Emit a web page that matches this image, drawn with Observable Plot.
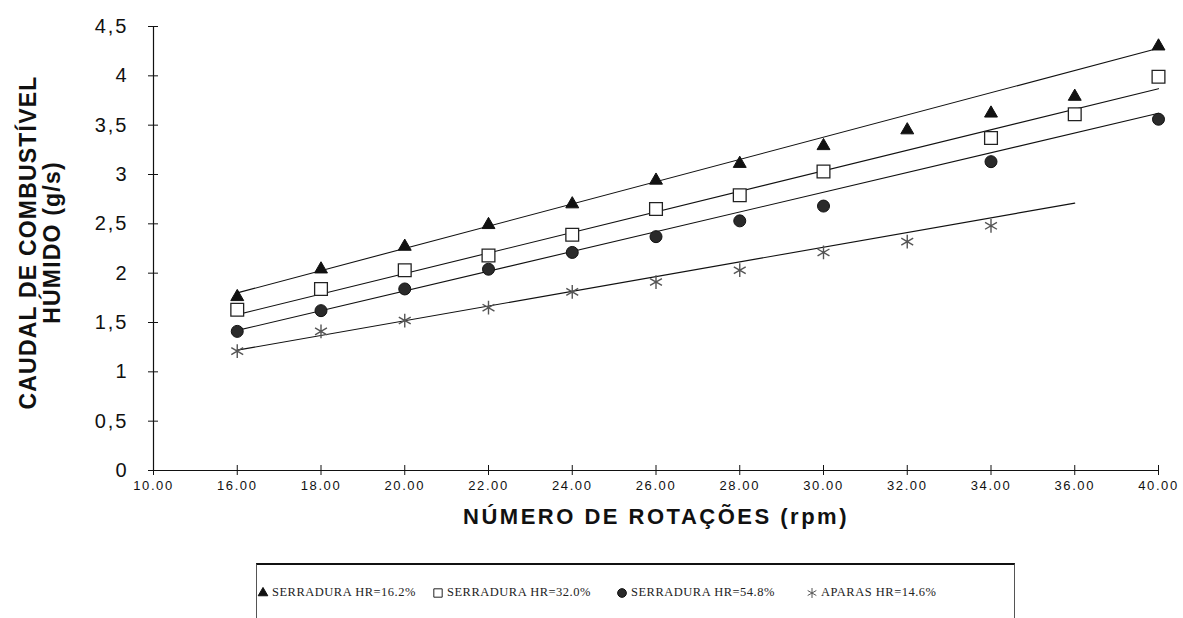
<!DOCTYPE html>
<html><head><meta charset="utf-8">
<script src="https://cdn.jsdelivr.net/npm/d3@7"></script>
<script src="https://cdn.jsdelivr.net/npm/@observablehq/plot@0.6"></script>
<style>
body{margin:0;background:#fff;width:1183px;height:618px;overflow:hidden;position:relative;font-family:"Liberation Sans",Arial,sans-serif;}
#chart svg{display:block;}
g[aria-label="y-axis tick label"] text{letter-spacing:2px;}
g[aria-label="x-axis tick label"] text{letter-spacing:1.6px;}
.xtitle text{letter-spacing:2.5px;}
.ytitle text{letter-spacing:1.2px;}
#legend{position:absolute;left:256px;top:563px;width:759px;height:70px;border:1px solid #555;border-top:2px solid #111;box-sizing:border-box;}
.item{position:absolute;top:20px;display:flex;align-items:center;font-family:"Liberation Serif","Times New Roman",serif;font-size:12.5px;color:#222;letter-spacing:0.5px;white-space:nowrap;}
.item svg{margin-right:3px;}
</style></head><body>
<div id="chart"></div>
<div id="legend"></div>
<script>
// Categories (x axis is a category axis, evenly spaced)
const rpmLabels = ["10.00","16.00","18.00","20.00","22.00","24.00","26.00","28.00","30.00","32.00","34.00","36.00","40.00"];
// Series values per category (null = no point)
const serradura162 = [null,1.76,2.04,2.27,2.49,2.70,2.94,3.11,3.29,3.45,3.62,3.79,4.30];
const serradura320 = [null,1.63,1.84,2.03,2.18,2.39,2.65,2.79,3.03,null,3.37,3.61,3.99];
const serradura548 = [null,1.41,1.62,1.84,2.04,2.21,2.37,2.53,2.68,null,3.13,null,3.56];
const aparas146    = [null,1.21,1.41,1.52,1.65,1.81,1.91,2.03,2.21,2.32,2.48,null,null];
// Trend lines: start/end category index and values
const trendFrom  = [1, 1, 1, 1];
const trendTo    = [12, 12, 12, 11];
const trendStart = [1.80, 1.58, 1.42, 1.22];
const trendEnd   = [4.28, 3.87, 3.62, 2.71];
const seriesNames = ["SERRADURA HR=16.2%","SERRADURA HR=32.0%","SERRADURA HR=54.8%","APARAS HR=14.6%"];
const yTicks = [0,0.5,1,1.5,2,2.5,3,3.5,4,4.5];
const xTitle = "NÚMERO DE ROTAÇÕES (rpm)";
const yTitle = "CAUDAL DE COMBUSTÍVEL\nHÚMIDO (g/s)";

const seriesValues = [serradura162, serradura320, serradura548, aparas146];
const points = seriesValues.flatMap((vals, s) => vals.map((v, i) => ({s, i, v})).filter(d => d.v != null));
const trends = seriesValues.flatMap((_, s) => [
  {s, i: trendFrom[s], v: trendStart[s]},
  {s, i: trendTo[s], v: trendEnd[s]}
]);
const styles = [
  {symbol: "triangle", r: 4.8, fill: "#111", stroke: "#111", strokeWidth: 1},
  {symbol: "square", r: 7.2, fill: "white", stroke: "#222", strokeWidth: 1.3},
  {symbol: "circle", r: 6, fill: "#2a2a2a", stroke: "#111", strokeWidth: 1},
  {symbol: "asterisk", r: 6.5, fill: "none", stroke: "#555", strokeWidth: 1.4}
];
const xIdx = d3.range(rpmLabels.length);

const chart = Plot.plot({
  width: 1183, height: 550,
  marginLeft: 153, marginRight: 25, marginTop: 26, marginBottom: 80,
  style: {fontFamily: "'Liberation Sans', Arial, sans-serif", color: "#111", background: "white"},
  x: {type: "linear", domain: [0, rpmLabels.length - 1]},
  y: {domain: [0, 4.5]},
  marks: [
    Plot.ruleX([0], {stroke: "#111", strokeWidth: 1.2}),
    Plot.ruleY([0], {stroke: "#111", strokeWidth: 1.2}),
    Plot.axisY({ticks: yTicks, tickSize: 5, tickPadding: 20, fontSize: 20, label: null,
      tickFormat: d => String(d).replace(".", ",")}),
    Plot.axisY({ticks: yTicks, tickSize: -5, label: null, tickFormat: () => ""}),
    Plot.axisX({ticks: xIdx, tickSize: 5, tickPadding: 5, fontSize: 13, label: null,
      tickFormat: i => rpmLabels[i]}),
    Plot.axisX({ticks: xIdx, tickSize: -5, label: null, tickFormat: () => ""}),
    Plot.line(trends, {x: "i", y: "v", z: "s", stroke: "#111", strokeWidth: 1.1}),
    ...styles.map((st, s) => Plot.dot(points.filter(d => d.s === s), {x: "i", y: "v", ...st})),
    Plot.text([xTitle], {frameAnchor: "bottom", dy: 53, fontSize: 22, fontWeight: "bold", fill: "#111", className: "xtitle"}),
    Plot.text([yTitle], {frameAnchor: "left", textAnchor: "middle", dx: -113, dy: -6, rotate: -90, fontSize: 23, fontWeight: "bold", lineHeight: 1.05, fill: "#111", className: "ytitle"})
  ]
});
document.getElementById("chart").append(chart);

// Legend
const legend = d3.select("#legend");
const itemLeft = [0, 175, 359, 549];
seriesNames.forEach((name, s) => {
  const item = legend.append("div").attr("class", "item").style("left", itemLeft[s] + "px");
  const svg = item.append("svg").attr("width", 12).attr("height", 12);
  const st = styles[s];
  const sym = {triangle: d3.symbolTriangle, square: d3.symbolSquare, circle: d3.symbolCircle, asterisk: d3.symbolAsterisk}[st.symbol];
  const size = {triangle: 40, square: 70, circle: 60, asterisk: 70}[st.symbol];
  svg.append("path").attr("transform", "translate(6,6)").attr("d", d3.symbol(sym, size)())
    .attr("fill", st.fill).attr("stroke", st.stroke).attr("stroke-width", 1);
  item.append("span").text(name);
});
</script>
</body></html>
